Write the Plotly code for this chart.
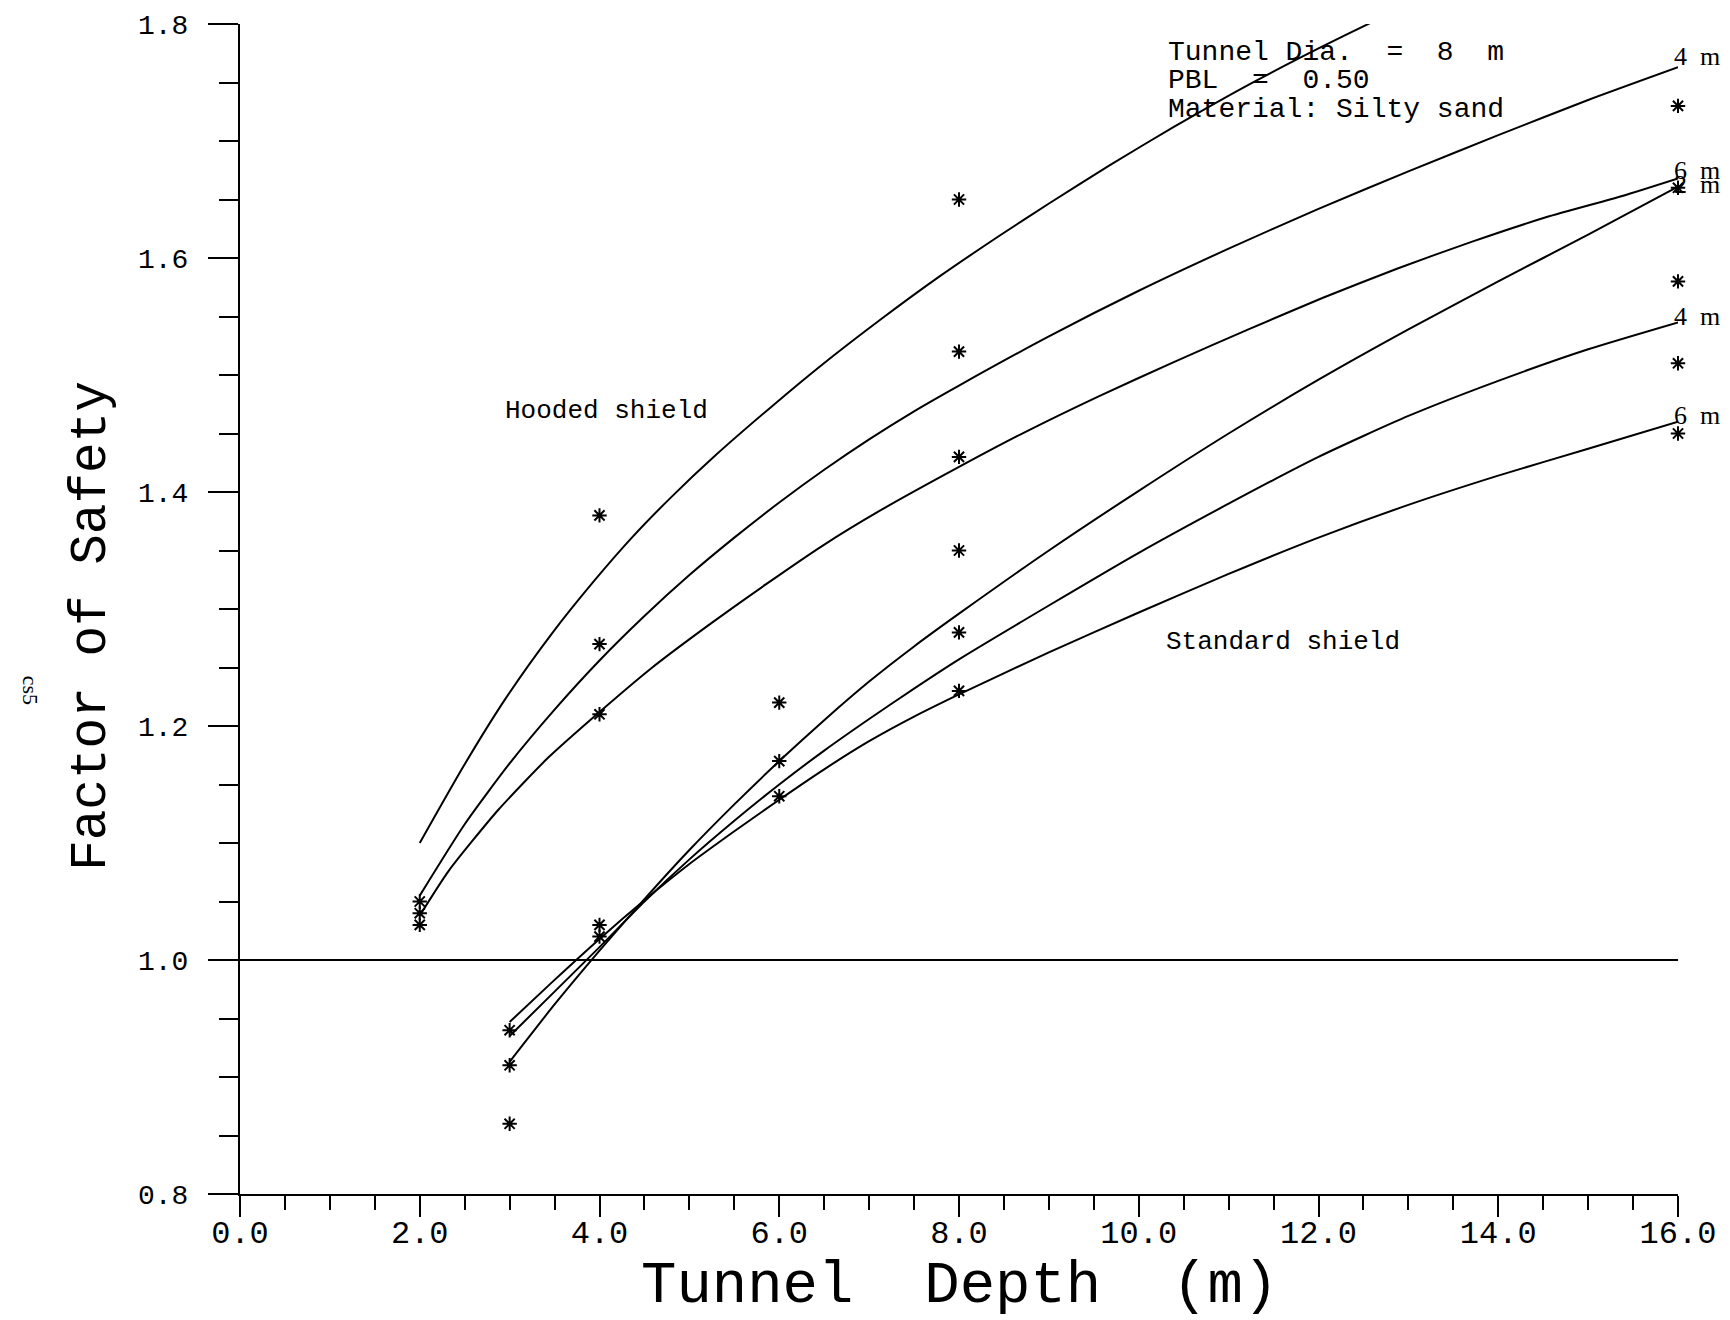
import plotly.graph_objects as go

# Hooded shield curves (tunnel depth m, factor of safety)
hooded_2m_x = [2.0, 2.49, 2.96, 3.47, 3.94, 4.36, 4.79, 5.30, 5.93, 6.48, 7.12, 7.76,
               8.45, 9.01, 9.67, 10.39, 11.22, 12.05, 12.66, 13.22]
hooded_2m_y = [1.100, 1.166, 1.224, 1.279, 1.324, 1.361, 1.395, 1.432, 1.474, 1.509, 1.547, 1.583,
               1.619, 1.647, 1.679, 1.712, 1.748, 1.781, 1.804, 1.825]

hooded_4m_x = [2.0, 2.5, 3.0, 3.5, 4.0, 4.5, 5.0, 5.5, 6.0, 6.5, 7.0, 7.5,
               8.0, 9.0, 10.0, 11.0, 12.0, 13.0, 14.0, 15.0, 16.0]
hooded_4m_y = [1.055, 1.116, 1.168, 1.214, 1.256, 1.294, 1.329, 1.361, 1.391, 1.419, 1.445, 1.469,
               1.491, 1.533, 1.572, 1.608, 1.642, 1.674, 1.705, 1.735, 1.763]

hooded_6m_x = [2.0, 2.32, 2.87, 3.43, 4.0, 4.57, 5.21, 5.85, 6.48, 7.12, 7.99, 8.73,
               9.56, 10.39, 11.22, 12.05, 12.88, 13.71, 14.54, 15.38, 16.0]
hooded_6m_y = [1.038, 1.076, 1.128, 1.173, 1.212, 1.249, 1.286, 1.321, 1.354, 1.384, 1.421, 1.451,
               1.482, 1.511, 1.539, 1.566, 1.591, 1.614, 1.635, 1.653, 1.668]

# Standard shield curves
standard_2m_x = [3.0, 3.5, 4.0, 4.5, 5.0, 5.5, 6.0, 6.5, 7.0, 7.5, 8.0, 9.0,
                 10.0, 11.0, 12.0, 13.0, 14.0, 15.0, 16.0]
standard_2m_y = [0.913, 0.962, 1.008, 1.052, 1.094, 1.133, 1.170, 1.205, 1.238, 1.268, 1.296, 1.350,
                 1.401, 1.450, 1.496, 1.539, 1.580, 1.620, 1.661]

standard_4m_x = [3.0, 3.5, 4.0, 4.5, 5.0, 5.5, 6.0, 6.5, 7.0, 7.5, 8.0, 9.0,
                 10.0, 11.0, 12.0, 13.0, 14.0, 15.0, 16.0]
standard_4m_y = [0.935, 0.973, 1.011, 1.050, 1.086, 1.119, 1.150, 1.179, 1.206, 1.232, 1.257, 1.303,
                 1.348, 1.390, 1.430, 1.465, 1.495, 1.522, 1.545]

standard_6m_x = [3.0, 3.5, 4.0, 4.5, 5.0, 5.5, 6.0, 6.5, 7.0, 7.5, 8.0, 9.0,
                 10.0, 11.0, 12.0, 13.0, 14.0, 15.0, 16.0]
standard_6m_y = [0.947, 0.983, 1.018, 1.051, 1.082, 1.110, 1.137, 1.163, 1.187, 1.208, 1.227, 1.263,
                 1.297, 1.330, 1.361, 1.389, 1.414, 1.437, 1.460]

# Computed points (asterisks)
hooded_pts_x = [2, 2, 2, 4, 4, 4, 8, 8, 8, 16, 16, 16]
hooded_pts_y = [1.05, 1.04, 1.03, 1.38, 1.27, 1.21, 1.65, 1.52, 1.43, 1.73, 1.66, 1.58]
standard_pts_x = [3, 3, 3, 4, 4, 6, 6, 6, 8, 8, 8, 16, 16]
standard_pts_y = [0.94, 0.91, 0.86, 1.03, 1.02, 1.22, 1.17, 1.14, 1.35, 1.28, 1.23, 1.51, 1.45]

# Unity factor of safety line
unity_x = [0, 16]
unity_y = [1.0, 1.0]

# End-of-curve labels (cover depth)
end_labels = ["4  m", "6  m", "2  m", "4  m", "6  m"]
end_labels_y = [1.772, 1.675, 1.663, 1.550, 1.465]

info_lines = ["Tunnel Dia.  =  8  m", "PBL  =  0.50", "Material: Silty sand"]
info_y = [1.776, 1.752, 1.727]

MONO = "Liberation Mono, Courier New, monospace"
SERIF = "Liberation Serif, DejaVu Serif, serif"
LINE = dict(color="black", width=2, shape="spline", smoothing=0.6)

fig = go.Figure()

curves = [
    (hooded_2m_x, hooded_2m_y), (hooded_4m_x, hooded_4m_y), (hooded_6m_x, hooded_6m_y),
    (standard_2m_x, standard_2m_y), (standard_4m_x, standard_4m_y), (standard_6m_x, standard_6m_y),
]
for cx, cy in curves:
    fig.add_trace(go.Scatter(x=cx, y=cy, mode="lines", line=LINE, showlegend=False))

fig.add_trace(go.Scatter(x=unity_x, y=unity_y, mode="lines",
                         line=dict(color="black", width=2), showlegend=False))

for px, py in [(hooded_pts_x, hooded_pts_y), (standard_pts_x, standard_pts_y)]:
    fig.add_trace(go.Scatter(
        x=px, y=py, mode="markers", showlegend=False, cliponaxis=False,
        marker=dict(symbol="asterisk-open", size=12, color="black",
                    line=dict(color="black", width=2)),
    ))

# labels at the right end of the curves
for txt, ly in zip(end_labels, end_labels_y):
    fig.add_annotation(x=16, y=ly, text=txt, showarrow=False, xanchor="left",
                       yanchor="middle", xshift=-6, font=dict(family=SERIF, size=26, color="black"))

for txt, ly in zip(info_lines, info_y):
    fig.add_annotation(x=10.3, y=ly, text=txt, showarrow=False, xanchor="left",
                       yanchor="middle", font=dict(family=MONO, size=28, color="black"))

fig.add_annotation(x=4.08, y=1.469, text="Hooded shield", showarrow=False,
                   font=dict(family=MONO, size=26, color="black"))
fig.add_annotation(x=11.6, y=1.272, text="Standard shield", showarrow=False,
                   font=dict(family=MONO, size=26, color="black"))

# axis titles as annotations so they sit where the original has them
fig.add_annotation(xref="paper", yref="paper", x=-0.103, y=0.4855, text="Factor of Safety",
                   textangle=-90, showarrow=False, xanchor="center", yanchor="middle",
                   font=dict(family=MONO, size=51, color="black"))
fig.add_annotation(xref="paper", yref="paper", x=0.5, y=-0.079, text="Tunnel  Depth  (m)",
                   showarrow=False, xanchor="center", yanchor="middle",
                   font=dict(family=MONO, size=59, color="black"))
fig.add_annotation(xref="paper", yref="paper", x=-0.146, y=0.431, text="cs5",
                   textangle=90, showarrow=False, xanchor="center", yanchor="middle",
                   font=dict(family=SERIF, size=22, color="black"))

fig.update_xaxes(
    range=[0, 16], dtick=2, tick0=0, tickformat=".1f", automargin=False,
    showline=True, linecolor="black", linewidth=2, showgrid=False, zeroline=False,
    ticks="outside", ticklen=21, tickwidth=2, tickcolor="black",
    minor=dict(dtick=0.5, ticks="outside", ticklen=14, tickwidth=2, tickcolor="black"),
    tickfont=dict(family=MONO, size=32, color="black"), ticklabelstandoff=-12,
)
fig.update_yaxes(
    range=[0.8, 1.8], dtick=0.2, tick0=0.8, tickformat=".1f", automargin=False,
    showline=True, linecolor="black", linewidth=2, showgrid=False, zeroline=False,
    ticks="outside", ticklen=30, tickwidth=2, tickcolor="black",
    minor=dict(dtick=0.05, ticks="outside", ticklen=19, tickwidth=2, tickcolor="black"),
    tickfont=dict(family=MONO, size=28, color="black"), ticklabelstandoff=14,
)

# the page body has an 8px margin, so pull the plot area back by that much
fig.update_layout(
    width=1730, height=1320,
    margin=dict(l=232, r=60, t=16, b=134),
    plot_bgcolor="white", paper_bgcolor="white",
    showlegend=False,
)

fig.write_html("out.html")
